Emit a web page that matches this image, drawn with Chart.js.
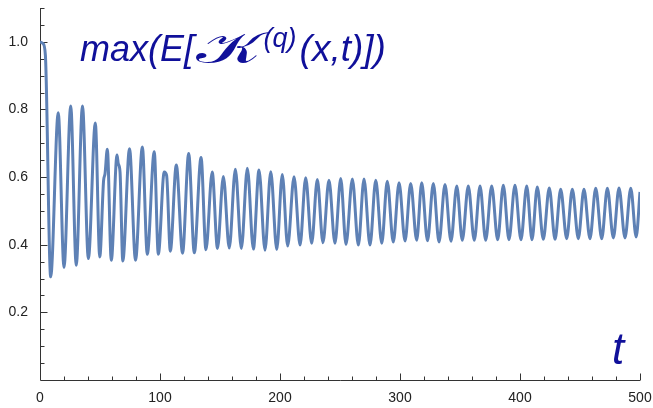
<!DOCTYPE html>
<html lang="en">
<head>
  <meta charset="UTF-8">
  <title>max(E[K(q)(x,t)])</title>
  <script src="https://cdn.jsdelivr.net/npm/chart.js"></script>
  <style>
    body { margin: 0; background: #fff; }
    #wrap { position: relative; width: 653px; height: 408px; }
  </style>
</head>
<body>
  <div id="wrap">
    <canvas id="myChart"></canvas>
  </div>
  <script>
    // values: peaks and troughs of the curve
    const tValues = [
      0, 2.5, 4.5, 8.9, 15.2, 20, 25.6, 30.2, 35.4, 40.3,
      46.1, 49.8, 53, 54.2, 56.1, 59.4, 64.2, 65.2, 66.7, 69,
      74.6, 79.6, 85.3, 89.4, 95.2, 98.6, 103.5, 105.5, 108.6, 113.6,
      118.8, 123.9, 128.6, 134.2, 138.3, 143.5, 147.9, 152.8, 157.7, 162.8,
      167.8, 172.8, 177.8, 182.5, 187.5, 192.3, 197.3, 201.9, 206.4, 211.7,
      216.7, 221.4, 226.4, 231.1, 235.8, 240.8, 245.8, 250.6, 255, 260.3,
      265.3, 270, 275, 279.8, 284.8, 289.4, 294.4, 299.2, 304.2, 308.9,
      313.9, 318.1, 322.9, 327.8, 332.5, 337.5, 342.5, 347.3, 351.9, 356.9,
      361.9, 366.7, 371.4, 376.4, 381.4, 386.1, 390.8, 395.8, 400.8, 405.6,
      410, 414.4, 419.4, 424.4, 429.2, 433.9, 438.9, 443.6, 448.6, 453.3,
      458.3, 463.1, 468.1, 472.8, 477.8, 482.5, 487.5, 492.3, 496.8, 500
    ];
    const kValues = [
      1.0, 0.995, 0.96, 0.305, 0.790, 0.333, 0.810, 0.339, 0.810, 0.359,
      0.760, 0.364, 0.59, 0.61, 0.682, 0.354, 0.665, 0.64, 0.615, 0.352,
      0.684, 0.354, 0.689, 0.372, 0.675, 0.372, 0.615, 0.605, 0.381, 0.636,
      0.375, 0.670, 0.376, 0.658, 0.385, 0.615, 0.389, 0.602, 0.390, 0.623,
      0.389, 0.626, 0.387, 0.621, 0.384, 0.616, 0.386, 0.608, 0.396, 0.601,
      0.399, 0.598, 0.404, 0.593, 0.406, 0.591, 0.404, 0.596, 0.401, 0.594,
      0.399, 0.594, 0.399, 0.591, 0.404, 0.588, 0.408, 0.583, 0.411, 0.581,
      0.413, 0.583, 0.412, 0.581, 0.408, 0.578, 0.410, 0.574, 0.413, 0.574,
      0.413, 0.574, 0.413, 0.574, 0.415, 0.576, 0.415, 0.576, 0.415, 0.574,
      0.415, 0.571, 0.416, 0.568, 0.416, 0.564, 0.418, 0.564, 0.418, 0.564,
      0.418, 0.567, 0.418, 0.567, 0.420, 0.568, 0.420, 0.567, 0.423, 0.556
    ];
    const xTickLabels = [0, 100, 200, 300, 400, 500];
    const yTickLabels = [0.2, 0.4, 0.6, 0.8, 1.0];
    const xMinor = 20;     // minor tick step on t
    const yMinor = 0.05;   // minor tick step on value

    const points = tValues.map((t, i) => ({ x: t, y: kValues[i] }));
    const ink = '#10109a';

    // Mathematica-like axes: ticks pointing inward
    const axesPlugin = {
      id: 'mmaAxes',
      beforeDatasetsDraw(chart) {
        const { ctx, chartArea: a, scales: { x, y } } = chart;
        ctx.save();
        ctx.strokeStyle = '#333';
        ctx.lineWidth = 1;
        ctx.beginPath();
        const bx = Math.round(a.left) + 0.5;
        const by = Math.round(a.bottom) + 0.5;
        ctx.moveTo(bx, a.top);
        ctx.lineTo(bx, by);
        ctx.lineTo(a.right, by);
        for (let v = xMinor; v <= 500 + 1e-9; v += xMinor) {
          const px = Math.round(x.getPixelForValue(v)) + 0.5;
          const len = Math.abs(v % 100) < 1e-6 ? 7 : 4;
          ctx.moveTo(px, by);
          ctx.lineTo(px, by - len);
        }
        for (let k = 1; k <= 22; k++) {
          const v = k * yMinor;
          const py = Math.round(y.getPixelForValue(v)) + 0.5;
          const len = k % 4 === 0 ? 7 : 4;
          ctx.moveTo(bx, py);
          ctx.lineTo(bx + len, py);
        }
        ctx.stroke();
        ctx.restore();
      },
      afterDraw(chart) {
        const { ctx } = chart;
        ctx.save();
        ctx.fillStyle = ink;
        ctx.textBaseline = 'alphabetic';
        let cx = 80;
        const base = 61;
        ctx.font = 'italic 36px "Liberation Sans", Arial, sans-serif';
        ctx.fillText('max(E[', cx, base);
        cx += ctx.measureText('max(E[').width + 2;
        // wide calligraphic K
        ctx.font = '44px "DejaVu Serif", serif';
        const kw = ctx.measureText('\u{1D4A6}').width;
        ctx.save();
        ctx.translate(cx, base + 2);
        ctx.scale(1.6, 1);
        ctx.fillText('\u{1D4A6}', 0, 0);
        ctx.restore();
        cx += kw * 1.6 + 2;
        ctx.font = 'italic 27px "Liberation Sans", Arial, sans-serif';
        ctx.fillText('(q)', cx, base - 14);
        cx += ctx.measureText('(q)').width + 3;
        ctx.font = 'italic 37px "Liberation Sans", Arial, sans-serif';
        ctx.fillText('(x,t)])', cx, base);
        // axis label
        ctx.font = 'italic 44px "Liberation Sans", Arial, sans-serif';
        ctx.fillText('t', 612, 364);
        ctx.restore();
      }
    };

    const ctx = document.getElementById('myChart').getContext('2d');
    new Chart(ctx, {
      type: 'line',
      data: {
        datasets: [{
          data: points,
          borderColor: '#5e81b5',
          borderWidth: 3,
          fill: false,
          cubicInterpolationMode: 'monotone',
          pointRadius: 0
        }]
      },
      options: {
        responsive: true,
        maintainAspectRatio: false,
        animation: false,
        layout: { padding: { top: 8, right: 13, left: 0, bottom: 0 } },
        plugins: { legend: { display: false }, tooltip: { enabled: false } },
        scales: {
          x: {
            type: 'linear',
            min: 0,
            max: 500,
            grid: { display: false },
            border: { display: false },
            afterFit: s => { s.height = 28; s.paddingLeft = 0; s.paddingRight = 0; },
            afterBuildTicks: s => { s.ticks = xTickLabels.map(v => ({ value: v })); },
            ticks: {
              padding: 2,
              color: '#222',
              font: { family: '"Liberation Sans", Arial, sans-serif', size: 14 },
              maxRotation: 0,
              callback: v => String(v)
            }
          },
          y: {
            type: 'linear',
            min: 0,
            max: 1.1,
            grid: { display: false },
            border: { display: false },
            afterFit: s => { s.width = 40; s.paddingTop = 0; s.paddingBottom = 0; },
            afterBuildTicks: s => { s.ticks = yTickLabels.map(v => ({ value: v })); },
            ticks: {
              padding: 4,
              color: '#222',
              font: { family: '"Liberation Sans", Arial, sans-serif', size: 14 },
              callback: v => Number(v).toFixed(1)
            }
          }
        }
      },
      plugins: [axesPlugin]
    });
  </script>
</body>
</html>
